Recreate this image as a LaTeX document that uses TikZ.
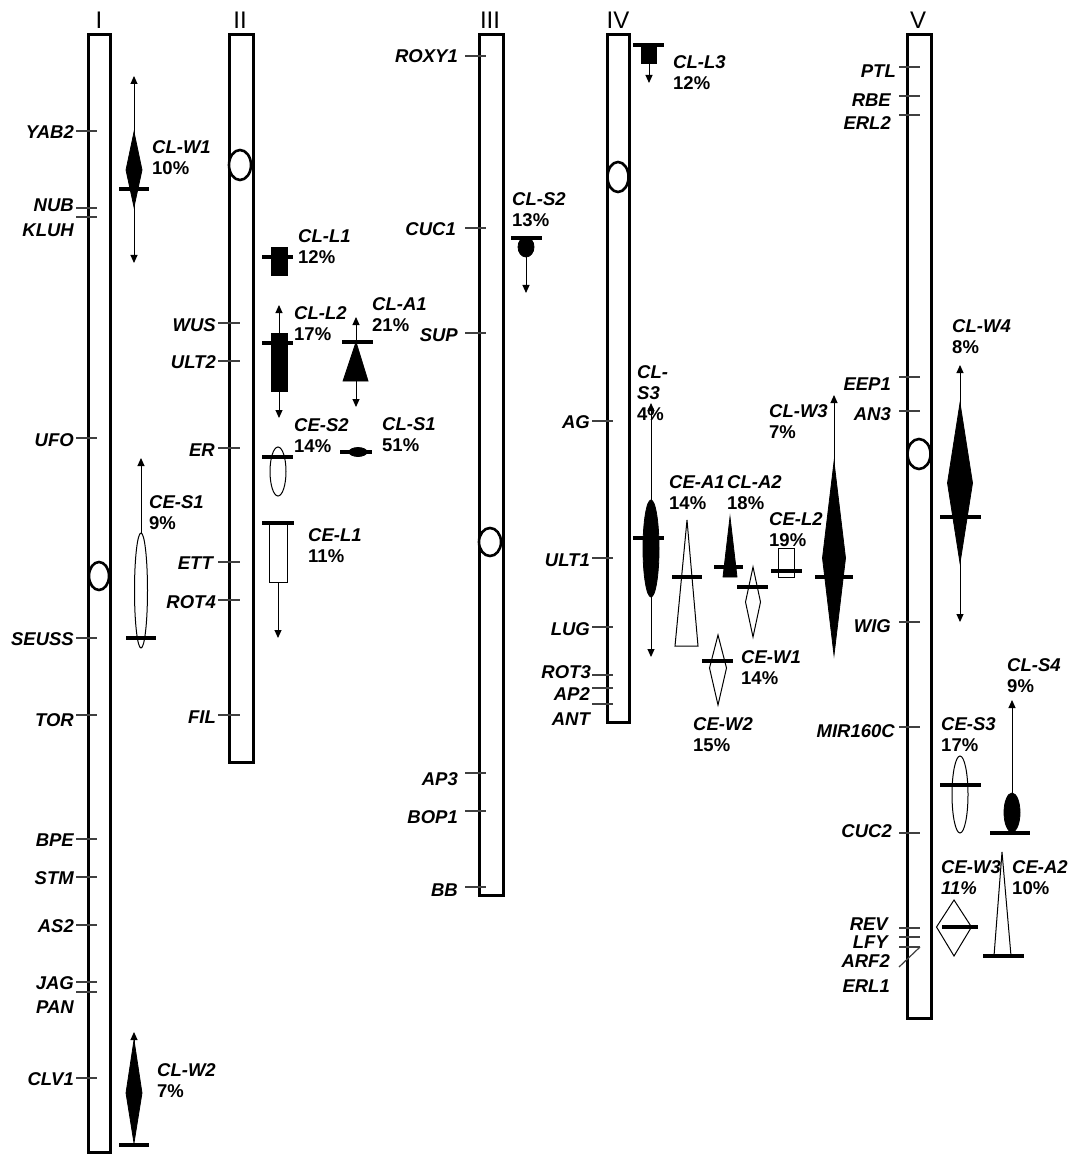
\documentclass[tikz,border=0pt]{standalone}
\usepackage{fontspec}
\setmainfont{Liberation Sans}
\usetikzlibrary{arrows.meta}
\begin{document}
\begin{tikzpicture}[x=1pt,y=-1pt,
  chrom/.style={draw=black,line width=3pt,fill=white},
  cen/.style={draw=black,line width=2.6pt,fill=white},
  tk/.style={draw=black!75,line width=1.2pt},
  pk/.style={draw=black,line width=3.2pt},
  arr/.style={draw=black,line width=1pt,-{Triangle[length=8pt,width=7pt]}},
  fil/.style={draw=black,fill=black,line width=0.8pt},
  opn/.style={draw=black,fill=white,line width=1pt},
  gl/.style={font=\fontsize{18.5}{21}\selectfont\bfseries\itshape,inner sep=0pt,anchor=base east},
  ql/.style={font=\fontsize{18.5}{21}\selectfont\bfseries,inner sep=0pt,anchor=north west,align=left},
  rn/.style={font=\fontsize{24}{26}\selectfont,inner sep=0pt,anchor=base}]
\useasboundingbox (0,0) rectangle (1069,1155);
\fill[white] (0,0) rectangle (1069,1155);

% roman numerals
\node[rn] (nI) at (99,29) {I};
\node[rn] (nII) at (240,29) {II};
\node[rn] (nIII) at (490,29) {III};
\node[rn] (nIV) at (618,29) {IV};
\node[rn] (nV) at (918,29) {V};

% chromosomes
\draw[chrom] (88,35) rectangle (110,1152);
\draw[chrom] (229,35) rectangle (253,762);
\draw[chrom] (479,35) rectangle (503,895);
\draw[chrom] (607,35) rectangle (629,722);
\draw[chrom] (907,35) rectangle (931,1018);

% ---- chromosome I markers
\foreach \y in {131,208,217,438,638,715,839,877,925,982,992,1078}
  \draw[tk] (76,\y) -- (97,\y);
\node[gl] (gYAB2) at (74,139) {YAB2};
\node[gl] (gNUB) at (74,212) {NUB};
\node[gl] (gKLUH) at (74,237) {KLUH};
\node[gl] (gUFO) at (74,446) {UFO};
\node[gl] (gSEUSS) at (74,645) {SEUSS};
\node[gl] (gTOR) at (74,726) {TOR};
\node[gl] (gBPE) at (74,846) {BPE};
\node[gl] (gSTM) at (74,884) {STM};
\node[gl] (gAS2) at (74,932) {AS2};
\node[gl] (gJAG) at (74,989) {JAG};
\node[gl] (gPAN) at (74,1013) {PAN};
\node[gl] (gCLV1) at (74,1085) {CLV1};

% ---- chromosome II markers
\foreach \y in {323,361,448,562,600,715}
  \draw[tk] (218,\y) -- (240,\y);
\node[gl] (gWUS) at (216,331) {WUS};
\node[gl] (gULT2) at (216,368) {ULT2};
\node[gl] (gER) at (215,456) {ER};
\node[gl] (gETT) at (213,569) {ETT};
\node[gl] (gROT4) at (216,608) {ROT4};
\node[gl] (gFIL) at (216,723) {FIL};

% ---- chromosome III markers
\foreach \y in {56,228,333,773,811,887}
  \draw[tk] (465,\y) -- (486,\y);
\node[gl] (gROXY1) at (458,63) {ROXY1};
\node[gl] (gCUC1) at (456,236) {CUC1};
\node[gl] (gSUP) at (458,341) {SUP};
\node[gl] (gAP3) at (458,785) {AP3};
\node[gl] (gBOP1) at (458,823) {BOP1};
\node[gl] (gBB) at (458,896) {BB};

% ---- chromosome IV markers
\foreach \y in {421,558,627,675,688,704}
  \draw[tk] (592,\y) -- (613,\y);
\node[gl] (gAG) at (590,428) {AG};
\node[gl] (gULT1) at (590,566) {ULT1};
\node[gl] (gLUG) at (590,635) {LUG};
\node[gl] (gROT3) at (591,678) {ROT3};
\node[gl] (gAP2) at (590,700) {AP2};
\node[gl] (gANT) at (590,725) {ANT};

% ---- chromosome V markers
\foreach \y in {67,96,115,377,411,622,727,833,928,937,947}
  \draw[tk] (899,\y) -- (920,\y);
\draw[tk] (899,967) -- (920,947);
\node[gl] (gPTL) at (896,78) {PTL};
\node[gl] (gRBE) at (891,107) {RBE};
\node[gl] (gERL2) at (891,130) {ERL2};
\node[gl] (gEEP1) at (891,390) {EEP1};
\node[gl] (gAN3) at (891,420) {AN3};
\node[gl] (gWIG) at (891,632) {WIG};
\node[gl] (gMIR) at (895,737) {MIR160C};
\node[gl] (gCUC2) at (892,837) {CUC2};
\node[gl] (gREV) at (888,930) {REV};
\node[gl] (gLFY) at (888,948) {LFY};
\node[gl] (gARF2) at (890,967) {ARF2};
\node[gl] (gERL1) at (890,992) {ERL1};

% centromeres
\draw[cen] (99,576) ellipse [x radius=10,y radius=14];
\draw[cen] (240,165) ellipse [x radius=11,y radius=15];
\draw[cen] (490,542) ellipse [x radius=11,y radius=14];
\draw[cen] (618,177) ellipse [x radius=10.5,y radius=15];
\draw[cen] (919,454) ellipse [x radius=11.5,y radius=15];

% ================= QTL =================
% CL-W1
\draw[arr] (134,170) -- (134,76);
\draw[arr] (134,170) -- (134,263);
\filldraw[fil] (134,132) -- (142,170) -- (134,207) -- (126,170) -- cycle;
\draw[pk] (119,189) -- (149,189);
\node[ql] (qCLW1) at (152,140) {\textit{CL-W1}\\10\%};

% CL-W2
\draw[arr] (134,1093) -- (134,1032);
\filldraw[fil] (134,1040) -- (142,1093) -- (134,1143) -- (126,1093) -- cycle;
\draw[pk] (119,1145) -- (149,1145);
\node[ql] (qCLW2) at (157,1063) {\textit{CL-W2}\\7\%};

% CE-S1
\draw[arr] (141,534) -- (141,458);
\draw[opn] (141,590.5) ellipse [x radius=6.5,y radius=57.5];
\draw[pk] (126,638) -- (156,638);
\node[ql] (qCES1) at (149,495) {\textit{CE-S1}\\9\%};

% CL-L1
\filldraw[fil] (271,247) rectangle (287,275);
\draw[pk] (262,257) -- (293,257);
\node[ql] (qCLL1) at (298,229) {\textit{CL-L1}\\12\%};

% CL-L2
\draw[arr] (279,340) -- (279,305);
\draw[arr] (279,385) -- (279,418);
\filldraw[fil] (271,333) rectangle (287,391);
\draw[pk] (262,343) -- (293,343);
\node[ql] (qCLL2) at (294,306) {\textit{CL-L2}\\17\%};

% CL-A1
\draw[arr] (356,345) -- (356,317);
\draw[arr] (356,378) -- (356,407);
\filldraw[fil] (356,342) -- (368,381) -- (343,381) -- cycle;
\draw[pk] (342,342) -- (373,342);
\node[ql] (qCLA1) at (372,297) {\textit{CL-A1}\\21\%};

% CE-S2
\draw[opn] (278,471.5) ellipse [x radius=8,y radius=24.5];
\draw[pk] (262,457) -- (293,457);
\node[ql] (qCES2) at (294,418) {\textit{CE-S2}\\14\%};

% CL-S1
\draw[pk] (340,452) -- (372,452);
\filldraw[fil] (358,452) ellipse [x radius=9,y radius=4.5];
\node[ql] (qCLS1) at (382,417) {\textit{CL-S1}\\51\%};

% CE-L1
\draw[arr] (278,580) -- (278,638);
\draw[opn] (269,523) rectangle (287,582);
\draw[pk] (262,523) -- (294,523);
\node[ql] (qCEL1) at (308,528) {\textit{CE-L1}\\11\%};

% CL-S2
\draw[arr] (526,250) -- (526,293);
\filldraw[fil] (526,247) ellipse [x radius=8,y radius=10];
\draw[pk] (511,238) -- (542,238);
\node[ql] (qCLS2) at (512,192) {\textit{CL-S2}\\13\%};

% CL-L3
\draw[arr] (649,60) -- (649,83);
\filldraw[fil] (641,45) rectangle (656,63);
\draw[pk] (633,45) -- (664,45);
\node[ql] (qCLL3) at (673,55) {\textit{CL-L3}\\12\%};

% CL-S3
\draw[arr] (651,548) -- (651,403);
\draw[arr] (651,548) -- (651,657);
\filldraw[fil] (651,548.5) ellipse [x radius=8,y radius=48.5];
\draw[pk] (633,538) -- (664,538);
\node[ql] (qCLS3) at (637,365) {\textit{CL-}\\\textit{S3}\\4\%};

% CE-A1
\draw[opn] (687,520) -- (698,646) -- (675,646) -- cycle;
\draw[pk] (672,577) -- (702,577);
\node[ql] (qCEA1) at (669,475) {\textit{CE-A1}\\14\%};

% CL-A2
\filldraw[fil] (730,517) -- (737,577) -- (723,577) -- cycle;
\draw[pk] (714,567) -- (743,567);
\node[ql] (qCLA2) at (727,475) {\textit{CL-A2}\\18\%};

% CE-W1 (upper open diamond)
\draw[opn] (753,567) -- (760.5,602) -- (753,637) -- (745.5,602) -- cycle;
\draw[pk] (737,587) -- (768,587);

% CE-W2 (lower open diamond)
\draw[opn] (718,635) -- (726.5,668) -- (718,705) -- (709.5,668) -- cycle;
\draw[pk] (702,661) -- (733,661);
\node[ql] (qCEW1) at (741,650) {\textit{CE-W1}\\14\%};
\node[ql] (qCEW2) at (693,717) {\textit{CE-W2}\\15\%};

% CE-L2
\draw[opn] (778,548) rectangle (794,577);
\draw[pk] (771,571) -- (802,571);
\node[ql] (qCEL2) at (769,512) {\textit{CE-L2}\\19\%};

% CL-W3
\draw[arr] (834,470) -- (834,395);
\filldraw[fil] (834,462) -- (845.5,558) -- (834,655) -- (822.5,558) -- cycle;
\draw[pk] (815,577) -- (853,577);
\node[ql] (qCLW3) at (769,404) {\textit{CL-W3}\\7\%};

% CL-W4
\draw[arr] (960,483) -- (960,365);
\draw[arr] (960,483) -- (960,622);
\filldraw[fil] (960,403) -- (972.5,483) -- (960,563) -- (947.5,483) -- cycle;
\draw[pk] (940,517) -- (981,517);
\node[ql] (qCLW4) at (952,319) {\textit{CL-W4}\\8\%};

% CE-S3
\draw[opn] (960,794.5) ellipse [x radius=8,y radius=38.5];
\draw[pk] (940,785) -- (981,785);
\node[ql] (qCES3) at (941,717) {\textit{CE-S3}\\17\%};

% CL-S4
\draw[arr] (1012,800) -- (1012,700);
\filldraw[fil] (1012,812.5) ellipse [x radius=8,y radius=19.5];
\draw[pk] (990,833) -- (1030,833);
\node[ql] (qCLS4) at (1007,658) {\textit{CL-S4}\\9\%};

% CE-W3
\draw[opn] (954,900) -- (971.5,927) -- (954,956) -- (936.5,927) -- cycle;
\draw[pk] (942,927) -- (978,927);
\node[ql] (qCEW3) at (941,860) {\textit{CE-W3}\\\textit{11\%}};

% CE-A2
\draw[opn] (1002,852) -- (1011,956) -- (994,956) -- cycle;
\draw[pk] (983,956) -- (1024,956);
\node[ql] (qCEA2) at (1012,860) {\textit{CE-A2}\\10\%};
\end{tikzpicture}
\end{document}
